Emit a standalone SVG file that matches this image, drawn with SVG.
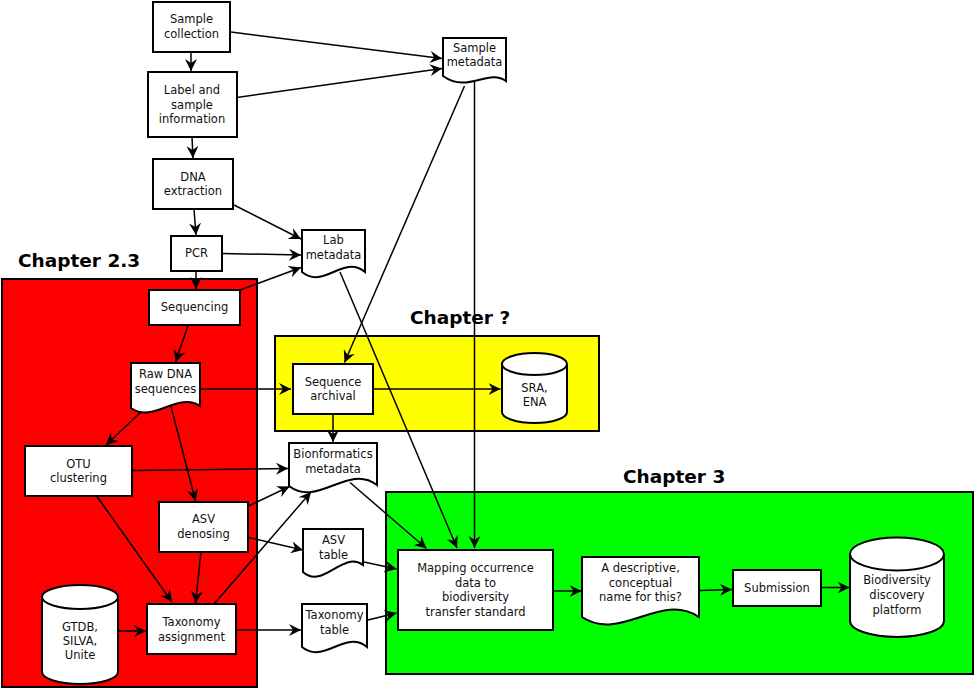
<svg xmlns="http://www.w3.org/2000/svg" width="974" height="689" viewBox="0 0 974 689">
<defs>
<marker id="ah" markerUnits="userSpaceOnUse" markerWidth="12" markerHeight="12" viewBox="0 0 12 12" refX="12" refY="6" orient="auto">
<path d="M0,0 L12,6 L0,12 L4,6 Z" fill="#000"/>
</marker>
<style>
.box{fill:#fff;stroke:#000;stroke-width:2}
.rim{fill:none;stroke:#000;stroke-width:2}
.ct{stroke:#000;stroke-width:2}
.t{font-family:"DejaVu Sans","Liberation Sans",sans-serif;font-size:11.5px;fill:#111;text-anchor:middle}
.h{font-family:"DejaVu Sans","Liberation Sans",sans-serif;font-size:18.5px;font-weight:bold;fill:#000}
#connectors path{fill:none;stroke:#000;stroke-width:1.5;marker-end:url(#ah)}
</style>
</defs>
<rect width="974" height="689" fill="#fff"/>
<g id="containers">
<rect class="ct" x="2" y="279" width="255" height="408" fill="#ff0000"/>
<rect class="ct" x="275" y="336" width="324" height="95" fill="#ffff00"/>
<rect class="ct" x="386" y="492" width="587" height="182" fill="#00ff00"/>
<text class="h" x="18" y="266.5">Chapter 2.3</text>
<text class="h" x="410" y="323.5">Chapter ?</text>
<text class="h" x="623" y="482.5">Chapter 3</text>
</g>
<g id="connectors">
<path d="M191,52 L191,71"/>
<path d="M231,32 L442,58.5"/>
<path d="M237,97.5 L442,68.5"/>
<path d="M192,137 L193,158"/>
<path d="M194,209 L196,235"/>
<path d="M234,205 L301,239"/>
<path d="M222,253.5 L301,255"/>
<path d="M196,271 L196,289"/>
<path d="M240,290 L301,267.5"/>
<path d="M188,325.5 L175.5,362"/>
<path d="M200,389 L291,389"/>
<path d="M142,411 L106,445"/>
<path d="M171,406.5 L195.5,501"/>
<path d="M132.5,470.5 L288,468.5"/>
<path d="M97,496.5 L172,602"/>
<path d="M201,552.5 L195.5,603"/>
<path d="M248.5,506 L289.5,486.5"/>
<path d="M248.5,537.5 L303,550"/>
<path d="M214,604 L311,492"/>
<path d="M118.5,631 L146,631"/>
<path d="M236,630 L301,630"/>
<path d="M333,414 L333,442"/>
<path d="M373,389 L500.5,389"/>
<path d="M464.5,86 L344.5,362.5"/>
<path d="M474.5,82 L474.5,548"/>
<path d="M340,272 L457,548"/>
<path d="M350,482.5 L426.5,548.5"/>
<path d="M364,562 L396.5,569"/>
<path d="M368,620 L396.5,613"/>
<path d="M553.5,591 L581.5,591"/>
<path d="M699.5,590.5 L732,589.5"/>
<path d="M821.5,587.5 L849.5,587.5"/>
</g>
<g id="sample-collection"><rect class="box" x="153" y="2" width="77" height="50"/><text class="t" x="191.5" y="23">Sample</text><text class="t" x="191.5" y="37.5">collection</text></g>
<g id="label-info"><rect class="box" x="148" y="72" width="89" height="65"/><text class="t" x="192" y="93.5">Label and</text><text class="t" x="192" y="108.5">sample</text><text class="t" x="192" y="123">information</text></g>
<g id="dna-extraction"><rect class="box" x="153" y="159" width="80" height="50"/><text class="t" x="193" y="180.5">DNA</text><text class="t" x="193" y="195">extraction</text></g>
<g id="pcr"><rect class="box" x="171" y="236" width="51" height="35"/><text class="t" x="196.5" y="257">PCR</text></g>
<g id="sequencing"><rect class="box" x="149" y="290" width="91" height="35"/><text class="t" x="194.5" y="311">Sequencing</text></g>
<g id="sample-metadata"><path class="box" d="M443,38 H506 V81 C488,68 468,94 443,76 Z"/><text class="t" x="474.5" y="52">Sample</text><text class="t" x="474.5" y="66">metadata</text></g>
<g id="lab-metadata"><path class="box" d="M302,230 H365 V272 C343,254 324,290 302,272 Z"/><text class="t" x="333.5" y="244">Lab</text><text class="t" x="333.5" y="259">metadata</text></g>
<g id="raw-dna"><path class="box" d="M131,363 H200 V406 C178,391 153,424 131,408 Z"/><text class="t" x="165.5" y="378">Raw DNA</text><text class="t" x="165.5" y="392.5">sequences</text></g>
<g id="otu"><rect class="box" x="25" y="446" width="107" height="50"/><text class="t" x="78.5" y="467.5">OTU</text><text class="t" x="78.5" y="482">clustering</text></g>
<g id="asv-denosing"><rect class="box" x="159" y="502" width="89" height="50"/><text class="t" x="203.5" y="523">ASV</text><text class="t" x="203.5" y="538">denosing</text></g>
<g id="taxonomy-assignment"><rect class="box" x="147" y="604" width="89" height="50"/><text class="t" x="191.5" y="626">Taxonomy</text><text class="t" x="191.5" y="640.5">assignment</text></g>
<g id="gtdb"><path class="box" d="M42,597 A38,12 0 0 1 118,597 V672 A38,12 0 0 1 42,672 Z"/><path class="rim" d="M42,597 A38,12 0 0 0 118,597"/><text class="t" x="80" y="630.5">GTDB,</text><text class="t" x="80" y="644.5">SILVA,</text><text class="t" x="80" y="659">Unite</text></g>
<g id="sequence-archival"><rect class="box" x="293" y="364" width="80" height="50"/><text class="t" x="333" y="385.5">Sequence</text><text class="t" x="333" y="400">archival</text></g>
<g id="sra-ena"><path class="box" d="M502,364 A32.5,11 0 0 1 567,364 V412 A32.5,11 0 0 1 502,412 Z"/><path class="rim" d="M502,364 A32.5,11 0 0 0 567,364"/><text class="t" x="534.5" y="391.5">SRA,</text><text class="t" x="534.5" y="405.5">ENA</text></g>
<g id="bioinformatics-metadata"><path class="box" d="M289,443 H377 V485 C348,463 318,508 289,486 Z"/><text class="t" x="333" y="458">Bionformatics</text><text class="t" x="333" y="472.5">metadata</text></g>
<g id="asv-table"><path class="box" d="M303,529 H363 V565 C343,550 323,590 303,572 Z"/><text class="t" x="333.5" y="544">ASV</text><text class="t" x="333.5" y="558.5">table</text></g>
<g id="taxonomy-table"><path class="box" d="M302,604 H367 V647 C345,629 324,665 302,647 Z"/><text class="t" x="334.5" y="619">Taxonomy</text><text class="t" x="334.5" y="633.5">table</text></g>
<g id="mapping"><rect class="box" x="398" y="550" width="155" height="80"/><text class="t" x="475.5" y="571.5">Mapping occurrence</text><text class="t" x="475.5" y="586.5">data to</text><text class="t" x="475.5" y="601">biodiversity</text><text class="t" x="475.5" y="615.5">transfer standard</text></g>
<g id="descriptive-name"><path class="box" d="M582,557 H699 V617 C660,591 621,643 582,617 Z"/><text class="t" x="640.5" y="571.5">A descriptive,</text><text class="t" x="640.5" y="586.5">conceptual</text><text class="t" x="640.5" y="601">name for this?</text></g>
<g id="submission"><rect class="box" x="733" y="570" width="88" height="36"/><text class="t" x="777" y="592">Submission</text></g>
<g id="biodiversity-platform"><path class="box" d="M850,554 A47,16.5 0 0 1 944,554 V621 A47,16 0 0 1 850,621 Z"/><path class="rim" d="M850,554 A47,16.5 0 0 0 944,554"/><text class="t" x="897" y="584">Biodiversity</text><text class="t" x="897" y="599">discovery</text><text class="t" x="897" y="613.5">platform</text></g>
</svg>
